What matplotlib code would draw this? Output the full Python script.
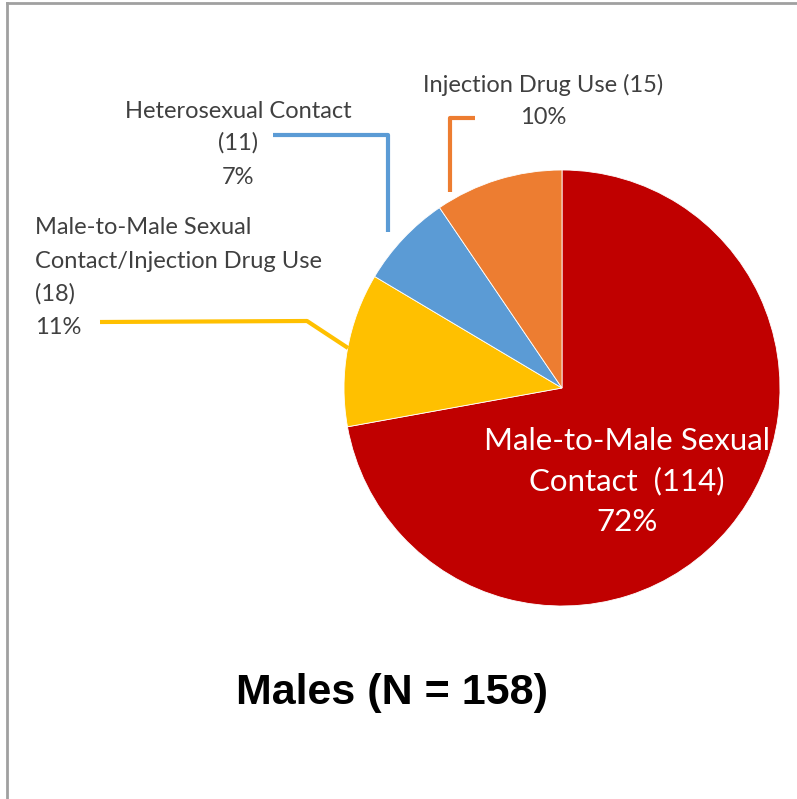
import matplotlib.pyplot as plt

categories = ['Male-to-Male Sexual\nContact  (114)',
              'Male-to-Male Sexual\nContact/Injection Drug Use',
              'Heterosexual Contact',
              'Injection Drug Use']
counts = [114, 18, 11, 15]
pct = [72, 11, 7, 10]   # as printed on the chart
colors = ['#C00000', '#FFC000', '#5B9BD5', '#ED7D31']

W, H = 797, 799

fig = plt.figure(figsize=(W / 100, H / 100), dpi=100)
ax = fig.add_axes([0, 0, 1, 1])

# pie in pixel coords (y flipped)
cx, cy, r = 562, H - 388, 218
wedges, _ = ax.pie(counts, colors=colors, startangle=90, counterclock=False,
                   center=(cx, cy), radius=r,
                   wedgeprops=dict(edgecolor='white', linewidth=0.6))
ax.set_xlim(0, W)
ax.set_ylim(0, H)
ax.set_aspect('auto')
ax.axis('off')

lab_font = ['Lato', 'DejaVu Sans']
fs = 17
tc = '#404040'

def Y(y):
    return H - y

# leader lines
ax.plot([388, 388, 273], [Y(232), Y(135), Y(135)], color=colors[2], lw=3, solid_capstyle='butt')
ax.plot([100, 307, 348], [Y(322), Y(321), Y(348)], color=colors[1], lw=3, solid_capstyle='butt')
ax.plot([450, 450, 475], [Y(192), Y(118), Y(118)], color=colors[3], lw=3, solid_capstyle='butt')

# labels outside
ax.text(238, Y(111), categories[2], ha='center', va='center', fontsize=fs, family=lab_font, color=tc)
ax.text(238, Y(143), '(%d)' % counts[2], ha='center', va='center', fontsize=fs, family=lab_font, color=tc)
ax.text(238, Y(177), '%d%%' % pct[2], ha='center', va='center', fontsize=fs, family=lab_font, color=tc)

msm_idu = categories[1].split('\n') + ['(%d)' % counts[1], '%d%%' % pct[1]]
for i, s in enumerate(msm_idu):
    ax.text(35, Y(228 + 33 * i), s, ha='left', va='center', fontsize=fs, family=lab_font, color=tc)

ax.text(543, Y(85), '%s (%d)' % (categories[3], counts[3]), ha='center', va='center',
        fontsize=fs, family=lab_font, color=tc)
ax.text(543, Y(117), '%d%%' % pct[3], ha='center', va='center', fontsize=fs, family=lab_font, color=tc)

# label inside red slice
inner = categories[0].split('\n') + ['%d%%' % pct[0]]
for i, s in enumerate(inner):
    ax.text(627, Y(441 + 40.5 * i), s, ha='center', va='center', fontsize=22.5,
            family=lab_font, color='white')

# title
ax.text(392, Y(693), 'Males (N = 158)', ha='center', va='center', fontsize=31,
        fontweight='bold', family=['Liberation Sans', 'DejaVu Sans'], color='black')

# frame (top and left only)
ax.plot([7, W], [Y(3), Y(3)], color='#a0a0a0', lw=2)
ax.plot([7, 7], [Y(3), 0], color='#a0a0a0', lw=2)

fig.savefig('out.png', dpi=100)
